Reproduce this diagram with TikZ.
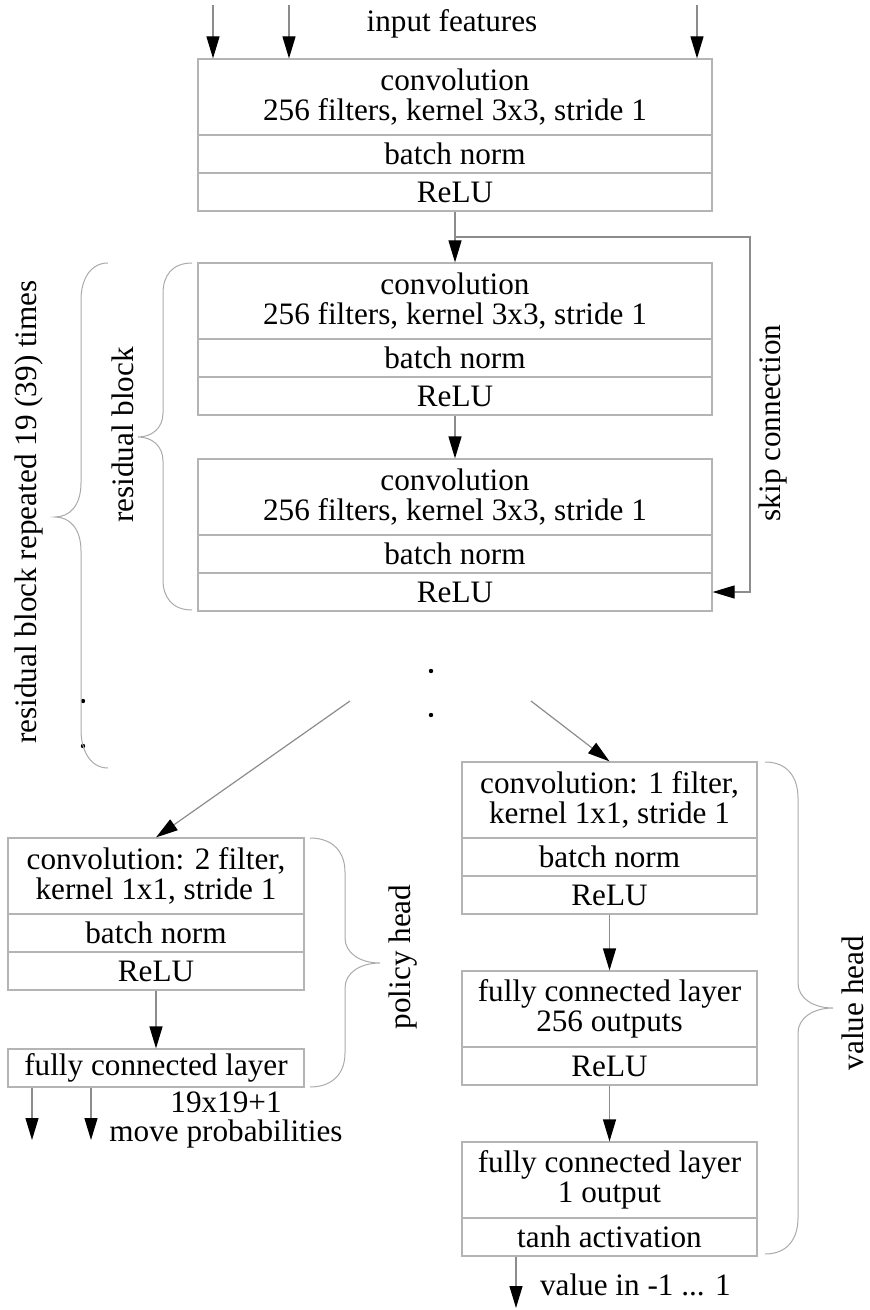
\documentclass[tikz,border=0pt]{standalone}
\usepackage{fontspec}
\setmainfont{Liberation Serif}
\usetikzlibrary{arrows.meta}
\definecolor{boxgray}{HTML}{B4B4B4}
\definecolor{linegray}{HTML}{8C8C8C}
\definecolor{bracegray}{HTML}{AAAAAA}
\begin{document}
\begin{tikzpicture}[x=0.5pt,y=-0.5pt,
  font=\fontsize{15.6}{14.8}\selectfont,
  cell/.style={draw=boxgray, line width=0.6pt, inner sep=0pt, align=center, minimum height=19pt},
  dcell/.style={cell, minimum height=38pt},
  wide/.style={minimum width=257pt},
  narrow/.style={minimum width=148pt},
  conn/.style={draw=linegray, line width=0.6pt, -{Triangle[length=11pt,width=6.5pt,color=black]}},
  brace/.style={draw=bracegray, line width=0.5pt},
  lab/.style={rotate=90, inner sep=0pt},
  blackdot/.style={fill=black, circle, inner sep=0pt, minimum size=2.2pt}
]
\useasboundingbox (0,0) rectangle (869,1310);

% top block
\node (inlab) at (452,24) {input features};
\node[dcell,wide] (T1) at (455,97) {convolution\\256 filters, kernel 3x3, stride 1};
\node[cell,wide] (T2) at (455,154) {batch norm};
\node[cell,wide] (T3) at (455,192) {ReLU};

% residual block
\node[dcell,wide] (A1) at (455,301) {convolution\\256 filters, kernel 3x3, stride 1};
\node[cell,wide] (A2) at (455,358) {batch norm};
\node[cell,wide] (A3) at (455,396) {ReLU};
\node[dcell,wide] (B1) at (455,497) {convolution\\256 filters, kernel 3x3, stride 1};
\node[cell,wide] (B2) at (455,554) {batch norm};
\node[cell,wide] (B3) at (455,592) {ReLU};

% policy head
\node[dcell,narrow] (P1) at (156,876) {convolution: 2 filter,\\kernel 1x1, stride 1};
\node[cell,narrow] (P2) at (156,933) {batch norm};
\node[cell,narrow] (P3) at (156,971) {ReLU};
\node[cell,narrow] (PF) at (156,1068) {fully connected layer};
\node[align=center] (plab) at (226,1120) {19x19+1\\move probabilities};

% value head
\node[dcell,minimum width=147.5pt] (V1) at (609.5,800) {convolution: 1 filter,\\kernel 1x1, stride 1};
\node[cell,minimum width=147.5pt] (V2) at (609.5,857) {batch norm};
\node[cell,minimum width=147.5pt] (V3) at (609.5,895) {ReLU};
\node[dcell,minimum width=147.5pt] (W1) at (609.5,1009) {fully connected layer\\256 outputs};
\node[cell,minimum width=147.5pt] (W2) at (609.5,1066) {ReLU};
\node[dcell,minimum width=147.5pt] (X1) at (609.5,1180) {fully connected layer\\1 output};
\node[cell,minimum width=147.5pt] (X2) at (609.5,1237) {tanh activation};
\node[anchor=west] (vlab) at (533,1285) {value in -1 ... 1};

% rotated labels
\node[lab] (outerlab) at (29,512) {residual block repeated 19 (39) times};
\node[lab] (reslab) at (123,435) {residual block};
\node[lab] (skiplab) at (773,423) {skip connection};
\node[lab] (polab) at (403,957) {policy head};
\node[lab] (valab) at (853,1003) {value head};

% coordinates
\coordinate (i1) at (213,5);
\coordinate (i2) at (289,5);
\coordinate (i3) at (697,5);
\coordinate (s0) at (455,237);
\coordinate (s1) at (750,237);
\coordinate (s2) at (750,592);
\coordinate (dl) at (350,701);
\coordinate (dr) at (531,701);
\coordinate (o1) at (32,1140);
\coordinate (o2) at (91,1140);
\coordinate (vo) at (516,1308);

% connectors
\draw[conn] (i1) -- (i1 |- T1.north);
\draw[conn] (i2) -- (i2 |- T1.north);
\draw[conn] (i3) -- (i3 |- T1.north);
\draw[conn] (T3.south) -- (A1.north);
\draw[conn] (s0) -- (s1) -- (s2) -- (B3.east);
\draw[conn] (A3.south) -- (B1.north);
\draw[conn] (dl) -- (P1.north);
\draw[conn] (dr) -- (V1.north);
\draw[conn] (P3.south) -- (PF.north);
\draw[conn] (PF.south -| o1) -- (o1);
\draw[conn] (PF.south -| o2) -- (o2);
\draw[conn] (V3.south) -- (W1.north);
\draw[conn] (W2.south) -- (X1.north);
\draw[conn] (X2.south -| vo) -- (vo);

% dots
\node[blackdot] (d1) at (431,671) {};
\node[blackdot] (d2) at (431,715) {};
\node[blackdot] (d3) at (83,701) {};
\node[blackdot] (d4) at (83,746) {};

% braces
\draw[brace] (108,263) .. controls (90,263) and (81,280) .. (81,300) -- (81,483)
  .. controls (81,505) and (70,517) .. (55,517)
  .. controls (70,517) and (81,529) .. (81,551) -- (81,730)
  .. controls (81,750) and (90,768) .. (108,768);
\draw[brace] (192,263) .. controls (172,263) and (163,276) .. (163,293) -- (163,413)
  .. controls (163,428) and (152,437) .. (138,437)
  .. controls (152,437) and (163,446) .. (163,461) -- (163,580)
  .. controls (163,597) and (172,610) .. (192,610);
\draw[brace] (310,838) .. controls (333,838) and (345,852) .. (345,872) -- (345,938)
  .. controls (345,953) and (360,963) .. (380,963)
  .. controls (360,963) and (345,973) .. (345,988) -- (345,1053)
  .. controls (345,1073) and (333,1087) .. (310,1087);
\draw[brace] (765,762) .. controls (788,762) and (798,778) .. (798,798) -- (798,983)
  .. controls (798,998) and (813,1008) .. (833,1008)
  .. controls (813,1008) and (798,1018) .. (798,1033) -- (798,1218)
  .. controls (798,1238) and (788,1254) .. (765,1254);
\end{tikzpicture}
\end{document}
